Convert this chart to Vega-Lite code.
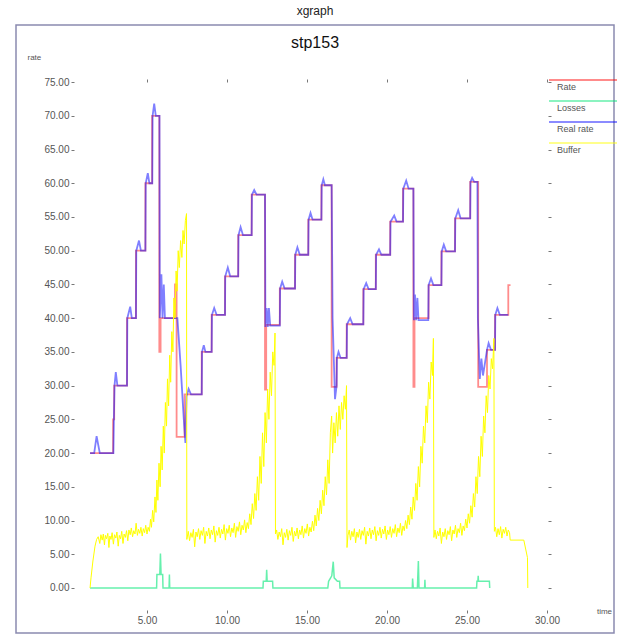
{
  "$schema": "https://vega.github.io/schema/vega-lite/v6.json",
  "autosize": {"type": "none"},
  "width": 598,
  "height": 608,
  "padding": {"left": 16, "top": 25, "right": 12, "bottom": 9},
  "background": "white",
  "title": {"text": "xgraph", "subtitle": "stp153", "anchor": "middle", "frame": "group", "offset": -27, "fontSize": 12, "fontWeight": "normal", "font": "Liberation Sans", "color": "#222", "subtitleFont": "Liberation Sans", "subtitleFontSize": 16, "subtitleColor": "#111", "subtitlePadding": 17},
  "datasets": {
    "rate": [
      {"t":1.44,"v":20},{"t":2.88,"v":25},{"t":2.95,"v":30},{"t":3.75,"v":40},{"t":4.31,"v":50},{"t":4.9,"v":60},{"t":5.32,"v":70},{"t":5.77,"v":35},{"t":5.85,"v":40},{"t":6.75,"v":45},{"t":6.85,"v":22.4},{"t":7.35,"v":28.7},{"t":8.42,"v":35},{"t":9.04,"v":40.5},{"t":9.875,"v":46.2},{"t":10.7,"v":52.3},{"t":11.54,"v":58.3},{"t":12.375,"v":29.4},{"t":12.45,"v":39},{"t":13.3,"v":44.4},{"t":14.25,"v":49.4},{"t":15.08,"v":54.6},{"t":15.9,"v":59.7},{"t":16.54,"v":29.8},{"t":16.85,"v":34.1},{"t":17.48,"v":39.1},{"t":18.52,"v":44.3},{"t":19.3,"v":49.4},{"t":20.2,"v":54.3},{"t":21.0,"v":59.2},{"t":21.65,"v":29.8},{"t":21.72,"v":40},{"t":22.6,"v":44.9},{"t":23.4,"v":49.9},{"t":24.25,"v":54.8},{"t":25.2,"v":60.2},{"t":25.7,"v":29.8},{"t":26.25,"v":35.3},{"t":26.75,"v":40.5},{"t":27.58,"v":44.9},{"t":27.72,"v":44.9}
    ],
    "real": [
      {"t":1.44,"v":20},{"t":1.7,"v":20},{"t":1.85,"v":22.5},{"t":2.05,"v":20},{"t":2.9,"v":20},{"t":2.93,"v":25},{"t":2.97,"v":30},{"t":3.05,"v":32},{"t":3.15,"v":30},{"t":3.75,"v":30},{"t":3.77,"v":40},{"t":3.95,"v":41.7},{"t":4.05,"v":40},{"t":4.31,"v":40},{"t":4.33,"v":50},{"t":4.5,"v":51.5},{"t":4.62,"v":50},{"t":4.9,"v":50},{"t":4.92,"v":60},{"t":5.05,"v":61.5},{"t":5.15,"v":60},{"t":5.33,"v":60},{"t":5.35,"v":70},{"t":5.45,"v":71.8},{"t":5.55,"v":70},{"t":5.78,"v":70},{"t":5.8,"v":40},{"t":5.9,"v":46.5},{"t":5.97,"v":40},{"t":6.05,"v":45},{"t":6.12,"v":40},{"t":6.9,"v":40},{"t":7.1,"v":33},{"t":7.3,"v":25},{"t":7.4,"v":21.5},{"t":7.47,"v":28.4},{"t":7.6,"v":29.5},{"t":7.75,"v":28.7},{"t":8.42,"v":28.7},{"t":8.44,"v":35},{"t":8.55,"v":36},{"t":8.65,"v":35},{"t":9.04,"v":35},{"t":9.06,"v":40.5},{"t":9.2,"v":41.5},{"t":9.35,"v":40.5},{"t":9.875,"v":40.5},{"t":9.89,"v":46.2},{"t":10.05,"v":47.5},{"t":10.2,"v":46.2},{"t":10.7,"v":46.2},{"t":10.72,"v":52.3},{"t":10.85,"v":53.5},{"t":11.0,"v":52.3},{"t":11.54,"v":52.3},{"t":11.56,"v":58.3},{"t":11.7,"v":59.0},{"t":11.85,"v":58.3},{"t":12.375,"v":58.3},{"t":12.4,"v":38.7},{"t":12.48,"v":41.5},{"t":12.55,"v":38.7},{"t":12.62,"v":41.5},{"t":12.7,"v":38.9},{"t":13.3,"v":38.9},{"t":13.32,"v":44.4},{"t":13.45,"v":45.4},{"t":13.6,"v":44.4},{"t":14.25,"v":44.4},{"t":14.27,"v":49.4},{"t":14.4,"v":50.5},{"t":14.55,"v":49.4},{"t":15.08,"v":49.4},{"t":15.1,"v":54.6},{"t":15.22,"v":55.6},{"t":15.35,"v":54.6},{"t":15.9,"v":54.6},{"t":15.92,"v":59.7},{"t":16.02,"v":60.6},{"t":16.12,"v":59.7},{"t":16.54,"v":59.7},{"t":16.6,"v":40},{"t":16.75,"v":28.0},{"t":16.85,"v":30},{"t":16.87,"v":34.1},{"t":16.97,"v":35},{"t":17.1,"v":34.1},{"t":17.48,"v":34.1},{"t":17.5,"v":39.1},{"t":17.7,"v":40},{"t":17.85,"v":39.1},{"t":18.52,"v":39.1},{"t":18.54,"v":44.3},{"t":18.7,"v":45.2},{"t":18.85,"v":44.3},{"t":19.3,"v":44.3},{"t":19.32,"v":49.4},{"t":19.5,"v":50.2},{"t":19.65,"v":49.4},{"t":20.2,"v":49.4},{"t":20.22,"v":54.3},{"t":20.45,"v":55.2},{"t":20.6,"v":54.3},{"t":21.0,"v":54.3},{"t":21.02,"v":59.2},{"t":21.2,"v":60.4},{"t":21.35,"v":59.2},{"t":21.65,"v":59.2},{"t":21.68,"v":39.7},{"t":21.75,"v":43.5},{"t":21.82,"v":39.7},{"t":21.9,"v":43.0},{"t":21.97,"v":39.7},{"t":22.58,"v":39.7},{"t":22.6,"v":44.9},{"t":22.75,"v":45.9},{"t":22.9,"v":44.9},{"t":23.4,"v":44.9},{"t":23.42,"v":49.9},{"t":23.55,"v":50.9},{"t":23.7,"v":49.9},{"t":24.25,"v":49.9},{"t":24.27,"v":54.8},{"t":24.45,"v":56},{"t":24.6,"v":54.8},{"t":25.2,"v":54.8},{"t":25.22,"v":60.2},{"t":25.32,"v":60.8},{"t":25.45,"v":60.2},{"t":25.65,"v":60.2},{"t":25.68,"v":40},{"t":25.8,"v":31},{"t":25.9,"v":34},{"t":26.0,"v":31.5},{"t":26.1,"v":33},{"t":26.25,"v":35.3},{"t":26.35,"v":36.3},{"t":26.5,"v":35.3},{"t":26.75,"v":35.3},{"t":26.77,"v":40.5},{"t":26.9,"v":41.5},{"t":27.05,"v":40.5},{"t":27.58,"v":40.5}
    ],
    "loss": [
      {"t":1.44,"v":0},{"t":5.6,"v":0},{"t":5.62,"v":2.0},{"t":5.8,"v":2.0},{"t":5.84,"v":5.1},{"t":5.88,"v":2.0},{"t":5.98,"v":2.0},{"t":6.0,"v":0},{"t":6.38,"v":0},{"t":6.4,"v":2.0},{"t":6.42,"v":0},{"t":12.25,"v":0},{"t":12.27,"v":1.0},{"t":12.45,"v":1.0},{"t":12.48,"v":2.7},{"t":12.51,"v":1.0},{"t":12.85,"v":1.0},{"t":12.87,"v":0},{"t":16.3,"v":0},{"t":16.35,"v":1.0},{"t":16.55,"v":1.8},{"t":16.64,"v":3.9},{"t":16.7,"v":1.5},{"t":16.9,"v":1.0},{"t":17.04,"v":1.0},{"t":17.06,"v":0},{"t":21.58,"v":0},{"t":21.6,"v":1.4},{"t":21.64,"v":0},{"t":21.9,"v":0},{"t":21.96,"v":4.0},{"t":22.0,"v":0},{"t":22.35,"v":0},{"t":22.37,"v":1.2},{"t":22.39,"v":0},{"t":25.6,"v":0},{"t":25.62,"v":1.0},{"t":25.68,"v":1.0},{"t":25.7,"v":1.8},{"t":25.72,"v":1.0},{"t":26.4,"v":1.0},{"t":26.42,"v":0}
    ],
    "buf": [
      {"t":1.44,"v":0},{"t":1.5,"v":1.5},{"t":1.62,"v":4.0},{"t":1.75,"v":6.2},{"t":1.85,"v":7.2},{"t":1.95,"v":7.6},{"t":2.05,"v":6.6},{"t":2.12,"v":7.9},{"t":2.2,"v":7.1},{"t":2.27,"v":8.0},{"t":2.34,"v":6.4},{"t":2.4,"v":7.8},{"t":2.47,"v":7.3},{"t":2.55,"v":8.1},{"t":2.62,"v":6.0},{"t":2.68,"v":7.7},{"t":2.75,"v":7.2},{"t":2.82,"v":8.2},{"t":2.9,"v":6.5},{"t":2.97,"v":7.9},{"t":3.05,"v":7.4},{"t":3.12,"v":8.3},{"t":3.2,"v":6.2},{"t":3.27,"v":7.8},{"t":3.35,"v":7.3},{"t":3.42,"v":8.4},{"t":3.5,"v":6.6},{"t":3.57,"v":8.0},{"t":3.65,"v":7.5},{"t":3.72,"v":8.5},{"t":3.8,"v":7.0},{"t":3.87,"v":8.6},{"t":3.95,"v":7.9},{"t":4.02,"v":8.9},{"t":4.1,"v":7.6},{"t":4.17,"v":8.5},{"t":4.25,"v":8.0},{"t":4.32,"v":9.6},{"t":4.4,"v":7.8},{"t":4.47,"v":8.7},{"t":4.55,"v":8.1},{"t":4.62,"v":9.0},{"t":4.7,"v":7.7},{"t":4.77,"v":8.8},{"t":4.85,"v":8.2},{"t":4.92,"v":9.3},{"t":5.0,"v":8.0},{"t":5.07,"v":9.0},{"t":5.15,"v":8.4},{"t":5.22,"v":10.2},{"t":5.28,"v":9.0},{"t":5.35,"v":11.5},{"t":5.42,"v":9.8},{"t":5.5,"v":13.5},{"t":5.56,"v":11.2},{"t":5.62,"v":16.0},{"t":5.68,"v":13.0},{"t":5.75,"v":18.5},{"t":5.82,"v":15.0},{"t":5.88,"v":21.0},{"t":5.95,"v":17.5},{"t":6.02,"v":24.0},{"t":6.08,"v":20.0},{"t":6.15,"v":27.5},{"t":6.22,"v":24.0},{"t":6.28,"v":31.0},{"t":6.35,"v":27.0},{"t":6.42,"v":34.5},{"t":6.48,"v":30.5},{"t":6.55,"v":38.0},{"t":6.62,"v":35.0},{"t":6.68,"v":43.0},{"t":6.75,"v":40.0},{"t":6.82,"v":47.0},{"t":6.88,"v":44.0},{"t":6.95,"v":50.0},{"t":7.02,"v":47.5},{"t":7.1,"v":51.5},{"t":7.18,"v":49.0},{"t":7.25,"v":53.0},{"t":7.32,"v":51.0},{"t":7.4,"v":54.5},{"t":7.47,"v":55.5},{"t":7.49,"v":7.2},
      {"t":7.58,"v":8.4},{"t":7.66,"v":7.0},{"t":7.74,"v":8.2},{"t":7.82,"v":7.5},{"t":7.9,"v":8.7},{"t":7.98,"v":6.1},{"t":8.06,"v":8.3},{"t":8.14,"v":7.6},{"t":8.22,"v":8.8},{"t":8.3,"v":7.2},{"t":8.38,"v":8.5},{"t":8.46,"v":7.8},{"t":8.54,"v":9.0},{"t":8.62,"v":6.6},{"t":8.7,"v":8.4},{"t":8.78,"v":7.7},{"t":8.86,"v":8.9},{"t":8.94,"v":7.3},{"t":9.02,"v":8.6},{"t":9.1,"v":7.9},{"t":9.18,"v":9.2},{"t":9.26,"v":6.8},{"t":9.34,"v":8.5},{"t":9.42,"v":7.8},{"t":9.5,"v":9.0},{"t":9.58,"v":7.4},{"t":9.66,"v":8.7},{"t":9.74,"v":8.0},{"t":9.82,"v":9.4},{"t":9.9,"v":7.1},{"t":9.98,"v":8.8},{"t":10.06,"v":8.1},{"t":10.14,"v":9.3},{"t":10.22,"v":7.6},{"t":10.3,"v":8.9},{"t":10.38,"v":8.2},{"t":10.46,"v":9.6},{"t":10.54,"v":7.5},{"t":10.62,"v":9.1},{"t":10.7,"v":8.4},{"t":10.78,"v":9.8},{"t":10.86,"v":7.9},{"t":10.94,"v":9.3},{"t":11.02,"v":8.6},{"t":11.1,"v":10.1},{"t":11.18,"v":8.2},{"t":11.26,"v":9.7},{"t":11.34,"v":8.8},{"t":11.42,"v":11.0},{"t":11.5,"v":9.4},{"t":11.58,"v":12.5},{"t":11.66,"v":10.3},{"t":11.74,"v":14.0},{"t":11.82,"v":11.5},{"t":11.9,"v":16.5},{"t":11.98,"v":13.0},{"t":12.06,"v":19.5},{"t":12.14,"v":15.5},{"t":12.22,"v":23.0},{"t":12.3,"v":18.0},{"t":12.38,"v":26.0},{"t":12.46,"v":21.5},{"t":12.54,"v":29.5},{"t":12.62,"v":25.0},{"t":12.7,"v":32.0},{"t":12.78,"v":28.5},{"t":12.86,"v":35.0},{"t":12.94,"v":33.0},{"t":13.0,"v":37.8},{"t":13.03,"v":8.0},
      {"t":13.1,"v":8.6},{"t":13.18,"v":7.2},{"t":13.26,"v":8.3},{"t":13.34,"v":7.6},{"t":13.42,"v":8.8},{"t":13.5,"v":6.4},{"t":13.58,"v":8.2},{"t":13.66,"v":7.5},{"t":13.74,"v":8.7},{"t":13.82,"v":7.1},{"t":13.9,"v":8.5},{"t":13.98,"v":7.8},{"t":14.06,"v":9.0},{"t":14.14,"v":6.9},{"t":14.22,"v":8.4},{"t":14.3,"v":7.7},{"t":14.38,"v":8.9},{"t":14.46,"v":7.3},{"t":14.54,"v":8.6},{"t":14.62,"v":7.9},{"t":14.7,"v":9.2},{"t":14.78,"v":7.4},{"t":14.86,"v":8.8},{"t":14.94,"v":8.1},{"t":15.02,"v":9.5},{"t":15.1,"v":7.7},{"t":15.18,"v":9.0},{"t":15.26,"v":8.3},{"t":15.34,"v":9.9},{"t":15.42,"v":8.5},{"t":15.5,"v":10.8},{"t":15.58,"v":9.2},{"t":15.66,"v":11.8},{"t":15.74,"v":10.0},{"t":15.82,"v":13.0},{"t":15.9,"v":11.0},{"t":15.98,"v":14.5},{"t":16.06,"v":12.2},{"t":16.14,"v":16.5},{"t":16.22,"v":13.8},{"t":16.3,"v":19.0},{"t":16.38,"v":15.5},{"t":16.46,"v":23.0},{"t":16.54,"v":25.5},{"t":16.6,"v":20.0},{"t":16.68,"v":24.5},{"t":16.76,"v":21.5},{"t":16.84,"v":26.0},{"t":16.92,"v":22.5},{"t":17.0,"v":27.0},{"t":17.08,"v":23.5},{"t":17.16,"v":27.5},{"t":17.24,"v":25.0},{"t":17.32,"v":28.5},{"t":17.4,"v":26.5},{"t":17.47,"v":30.0},{"t":17.5,"v":6.0},
      {"t":17.56,"v":7.8},{"t":17.64,"v":8.6},{"t":17.72,"v":7.1},{"t":17.8,"v":8.4},{"t":17.88,"v":7.6},{"t":17.96,"v":8.8},{"t":18.04,"v":6.7},{"t":18.12,"v":8.3},{"t":18.2,"v":7.5},{"t":18.28,"v":8.7},{"t":18.36,"v":7.2},{"t":18.44,"v":8.5},{"t":18.52,"v":7.8},{"t":18.6,"v":9.0},{"t":18.68,"v":6.5},{"t":18.76,"v":8.4},{"t":18.84,"v":7.7},{"t":18.92,"v":8.9},{"t":19.0,"v":7.3},{"t":19.08,"v":8.6},{"t":19.16,"v":7.9},{"t":19.24,"v":9.1},{"t":19.32,"v":7.0},{"t":19.4,"v":8.5},{"t":19.48,"v":7.8},{"t":19.56,"v":9.0},{"t":19.64,"v":7.4},{"t":19.72,"v":8.7},{"t":19.8,"v":8.0},{"t":19.88,"v":9.2},{"t":19.96,"v":7.2},{"t":20.04,"v":8.6},{"t":20.12,"v":7.9},{"t":20.2,"v":9.1},{"t":20.28,"v":7.5},{"t":20.36,"v":8.8},{"t":20.44,"v":8.1},{"t":20.52,"v":9.4},{"t":20.6,"v":7.6},{"t":20.68,"v":8.9},{"t":20.76,"v":8.2},{"t":20.84,"v":9.6},{"t":20.92,"v":7.8},{"t":21.0,"v":9.2},{"t":21.08,"v":8.5},{"t":21.16,"v":10.0},{"t":21.24,"v":8.8},{"t":21.32,"v":10.8},{"t":21.4,"v":9.4},{"t":21.48,"v":12.0},{"t":21.56,"v":10.2},{"t":21.64,"v":13.5},{"t":21.72,"v":11.5},{"t":21.8,"v":15.5},{"t":21.88,"v":13.0},{"t":21.96,"v":18.0},{"t":22.04,"v":15.0},{"t":22.12,"v":21.0},{"t":22.2,"v":18.5},{"t":22.28,"v":24.0},{"t":22.36,"v":21.5},{"t":22.44,"v":27.0},{"t":22.52,"v":24.5},{"t":22.6,"v":30.5},{"t":22.68,"v":28.0},{"t":22.76,"v":33.5},{"t":22.84,"v":31.5},{"t":22.9,"v":37.0},{"t":22.93,"v":7.5},
      {"t":23.0,"v":8.6},{"t":23.08,"v":7.3},{"t":23.16,"v":8.4},{"t":23.24,"v":7.7},{"t":23.32,"v":8.9},{"t":23.4,"v":6.6},{"t":23.48,"v":8.3},{"t":23.56,"v":7.6},{"t":23.64,"v":8.8},{"t":23.72,"v":7.2},{"t":23.8,"v":8.5},{"t":23.88,"v":7.9},{"t":23.96,"v":9.1},{"t":24.04,"v":7.0},{"t":24.12,"v":8.6},{"t":24.2,"v":8.0},{"t":24.28,"v":9.3},{"t":24.36,"v":7.5},{"t":24.44,"v":8.8},{"t":24.52,"v":8.2},{"t":24.6,"v":9.6},{"t":24.68,"v":7.8},{"t":24.76,"v":9.2},{"t":24.84,"v":8.5},{"t":24.92,"v":10.2},{"t":25.0,"v":8.9},{"t":25.08,"v":11.0},{"t":25.16,"v":9.6},{"t":25.24,"v":12.2},{"t":25.32,"v":10.5},{"t":25.4,"v":14.0},{"t":25.48,"v":12.0},{"t":25.56,"v":16.5},{"t":25.64,"v":14.0},{"t":25.72,"v":19.5},{"t":25.8,"v":16.5},{"t":25.88,"v":22.5},{"t":25.96,"v":19.5},{"t":26.04,"v":25.5},{"t":26.12,"v":23.0},{"t":26.2,"v":28.5},{"t":26.28,"v":26.0},{"t":26.36,"v":31.5},{"t":26.44,"v":29.5},{"t":26.52,"v":34.0},{"t":26.6,"v":32.5},{"t":26.68,"v":37.0},{"t":26.71,"v":8.4},{"t":26.78,"v":9.0},{"t":26.86,"v":7.6},{"t":26.94,"v":8.8},{"t":27.02,"v":7.9},{"t":27.1,"v":9.1},{"t":27.18,"v":7.4},{"t":27.26,"v":8.7},{"t":27.34,"v":8.1},{"t":27.42,"v":9.0},{"t":27.5,"v":7.7},{"t":27.58,"v":8.6},{"t":27.66,"v":8.2},{"t":27.7,"v":7.1},{"t":28.55,"v":7.1},{"t":28.78,"v":4.5},{"t":28.8,"v":0}
    ]
  },
  "layer": [
    {
      "data": {"name": "rate"},
      "mark": {"type": "line", "interpolate": "step-after", "strokeWidth": 1.8, "opacity": 0.45},
      "encoding": {
        "x": {"field": "t", "type": "quantitative", "scale": {"domain": [-3.1875, 34.1875], "nice": false, "zero": false},
              "axis": {"orient": "bottom", "offset": -23, "values": [5, 10, 15, 20, 25, 30], "format": ".2f", "title": "time", "titleAngle": 0, "titleX": 588, "titleY": 1, "titleAlign": "center", "titleBaseline": "middle"}},
        "y": {"field": "v", "type": "quantitative", "scale": {"domain": [-6.671, 83.457], "nice": false, "zero": false},
              "axis": {"orient": "left", "offset": -58, "values": [0, 5, 10, 15, 20, 25, 30, 35, 40, 45, 50, 55, 60, 65, 70, 75], "format": ".2f", "title": "rate", "titleAngle": 0, "titleX": -47, "titleY": 32, "titleAlign": "left", "titleBaseline": "middle"}},
        "color": {"datum": "Rate", "type": "nominal", "scale": {"domain": ["Rate", "Losses", "Real rate", "Buffer"], "range": ["#ff0000", "#00e676", "#0000ff", "#ffff00"]}, "legend": {"title": null}}
      }
    },
    {
      "data": {"name": "loss"},
      "mark": {"type": "line", "strokeWidth": 1.5, "opacity": 0.6},
      "encoding": {
        "x": {"field": "t", "type": "quantitative", "axis": {"orient": "top", "offset": -57, "values": [5, 10, 15, 20, 25, 30], "labels": false, "title": null}},
        "y": {"field": "v", "type": "quantitative", "axis": {"orient": "right", "offset": -66, "values": [0, 5, 10, 15, 20, 25, 30, 35, 40, 45, 50, 55, 60, 65, 70, 75], "labels": false, "title": null}},
        "color": {"datum": "Losses", "type": "nominal"}
      }
    },
    {
      "data": {"name": "real"},
      "mark": {"type": "line", "strokeWidth": 1.8, "opacity": 0.5},
      "encoding": {
        "x": {"field": "t", "type": "quantitative", "axis": null},
        "y": {"field": "v", "type": "quantitative", "axis": null},
        "color": {"datum": "Real rate", "type": "nominal"}
      }
    },
    {
      "data": {"name": "buf"},
      "mark": {"type": "line", "strokeWidth": 1},
      "encoding": {
        "x": {"field": "t", "type": "quantitative", "axis": null},
        "y": {"field": "v", "type": "quantitative", "axis": null},
        "color": {"datum": "Buffer", "type": "nominal"}
      }
    }
  ],
  "resolve": {"axis": {"x": "independent", "y": "independent"}},
  "config": {
    "view": {"stroke": "#8a8ab0", "strokeWidth": 1.5},
    "axis": {"grid": false, "domain": false, "labelFont": "Liberation Sans", "labelFontSize": 10, "labelColor": "#555", "tickColor": "#777", "tickSize": 3, "labelPadding": 2, "titleFont": "Liberation Sans", "titleFontSize": 8, "titleFontWeight": "normal", "titleColor": "#555"},
    "legend": {"orient": "none", "legendX": 527, "legendY": 56, "direction": "vertical", "symbolType": "M0,-1.4H13.6", "symbolSize": 100, "symbolStrokeWidth": 2, "labelOffset": 2, "rowPadding": 5, "labelFont": "Liberation Sans", "labelFontSize": 9, "labelColor": "#555", "padding": 0}
  }
}
